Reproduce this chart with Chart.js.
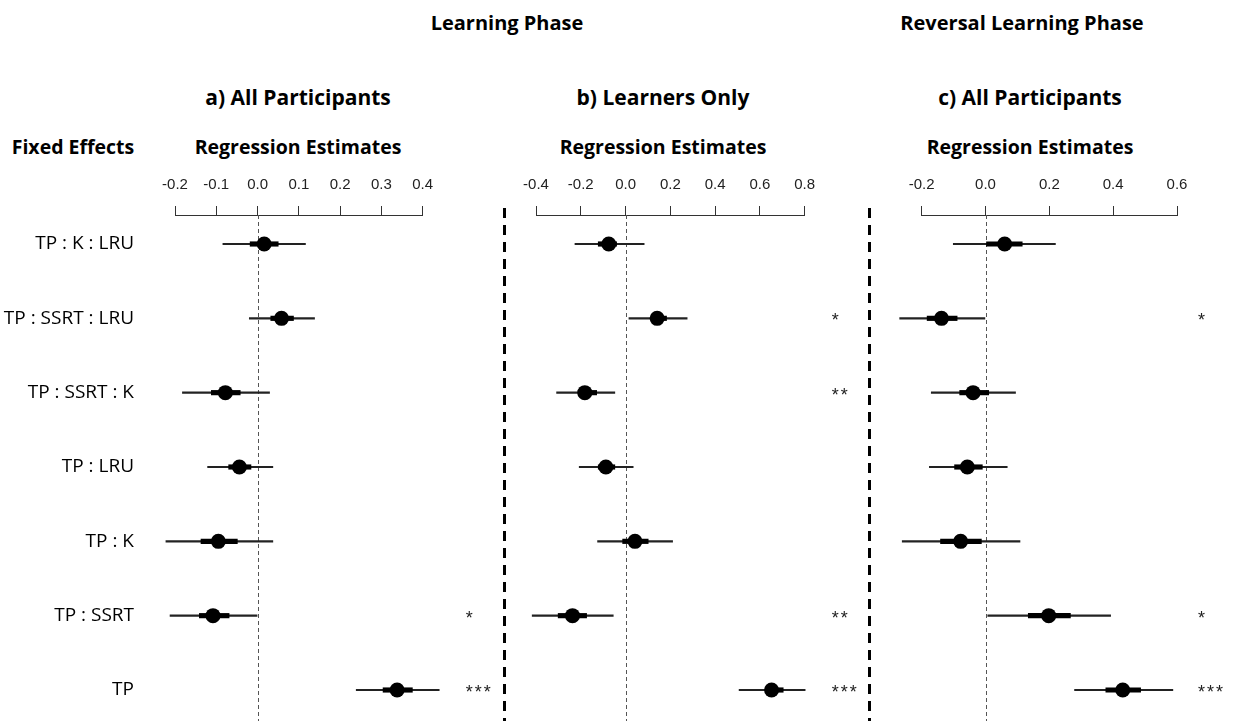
<!DOCTYPE html>
<html>
<head>
<meta charset="utf-8">
<script src="https://cdn.jsdelivr.net/npm/chart.js@4"></script>
<style>
  html, body { margin: 0; padding: 0; background: #fff; }
  body { width: 1233px; height: 721px; position: relative; overflow: hidden; font-family: "Open Sans", sans-serif; }
  .t { position: absolute; font-weight: bold; white-space: nowrap; transform: translate(-50%, -50%); color: #000; }
  .big { font-size: 20px; top: 22px; }
  .sub { font-size: 21px; top: 97px; }
  .hdr { font-size: 19.5px; top: 146px; }
  canvas { position: absolute; top: 0; }
</style>
</head>
<body>
<div class="t big" style="left:507px">Learning Phase</div>
<div class="t big" style="left:1022px">Reversal Learning Phase</div>
<div class="t sub" style="left:298px">a) All Participants</div>
<div class="t sub" style="left:663px">b) Learners Only</div>
<div class="t sub" style="left:1030px">c) All Participants</div>
<div class="t hdr" style="left:73px">Fixed Effects</div>
<div class="t hdr" style="left:298px">Regression Estimates</div>
<div class="t hdr" style="left:663px">Regression Estimates</div>
<div class="t hdr" style="left:1030px">Regression Estimates</div>

<canvas id="panelA" width="503" height="721" style="left:0"></canvas>
<canvas id="panelB" width="365" height="721" style="left:503px"></canvas>
<canvas id="panelC" width="365" height="721" style="left:868px"></canvas>

<script>
// fixed effects, top to bottom
const rowLabels = ['TP : K : LRU', 'TP : SSRT : LRU', 'TP : SSRT : K', 'TP : LRU', 'TP : K', 'TP : SSRT', 'TP'];

// a) learning phase, all participants
const ticksA = [-0.2, -0.1, 0.0, 0.1, 0.2, 0.3, 0.4];
const estA = [0.016, 0.058, -0.078, -0.044, -0.095, -0.108, 0.338];
const ciLowA = [-0.084, -0.020, -0.182, -0.121, -0.222, -0.212, 0.239];
const ciHighA = [0.116, 0.138, 0.029, 0.037, 0.037, 0.000, 0.440];
const innerLowA = [-0.018, 0.032, -0.112, -0.070, -0.137, -0.141, 0.304];
const innerHighA = [0.050, 0.087, -0.042, -0.016, -0.049, -0.069, 0.375];
const starsA = ['', '', '', '', '', '*', '***'];

// b) learning phase, learners only
const ticksB = [-0.4, -0.2, 0.0, 0.2, 0.4, 0.6, 0.8];
const estB = [-0.075, 0.141, -0.182, -0.088, 0.042, -0.237, 0.652];
const ciLowB = [-0.226, 0.015, -0.308, -0.207, -0.125, -0.417, 0.507];
const ciHighB = [0.083, 0.275, -0.048, 0.034, 0.210, -0.055, 0.802];
const innerLowB = [-0.122, 0.116, -0.212, -0.122, -0.013, -0.301, 0.629];
const innerHighB = [-0.040, 0.183, -0.129, -0.048, 0.101, -0.174, 0.704];
const starsB = ['', '*', '**', '', '', '**', '***'];

// c) reversal learning phase, all participants
const ticksC = [-0.2, 0.0, 0.2, 0.4, 0.6];
const estC = [0.060, -0.138, -0.039, -0.057, -0.078, 0.198, 0.430];
const ciLowC = [-0.101, -0.269, -0.170, -0.176, -0.261, 0.007, 0.279];
const ciHighC = [0.219, -0.002, 0.094, 0.068, 0.108, 0.392, 0.587];
const innerLowC = [0.003, -0.183, -0.081, -0.097, -0.141, 0.134, 0.377];
const innerHighC = [0.115, -0.089, 0.010, -0.010, -0.013, 0.266, 0.486];
const starsC = ['', '*', '', '', '', '*', '***'];

// zero line, significance stars and panel separator
const decor = {
    id: 'decor',
    beforeDatasetsDraw(chart, args, o) {
        const { ctx, chartArea, scales } = chart;
        const x0 = Math.round(scales.x.getPixelForValue(0)) + 0.5;
        ctx.save();
        ctx.strokeStyle = '#555';
        ctx.lineWidth = 1;
        ctx.setLineDash([4, 3]);
        ctx.beginPath();
        ctx.moveTo(x0, chartArea.top);
        ctx.lineTo(x0, chart.height);
        ctx.stroke();
        if (o.separator) {
            ctx.strokeStyle = '#000';
            ctx.lineWidth = 3;
            ctx.setLineDash([10, 7]);
            ctx.beginPath();
            ctx.moveTo(1.5, 208);
            ctx.lineTo(1.5, chart.height);
            ctx.stroke();
        }
        ctx.restore();
    },
    afterDatasetsDraw(chart, args, o) {
        const { ctx, chartArea, scales } = chart;
        ctx.save();
        ctx.fillStyle = '#222';
        ctx.font = '18px "Liberation Sans", Arial, sans-serif';
        ctx.letterSpacing = '2px';
        ctx.textAlign = 'left';
        ctx.textBaseline = 'alphabetic';
        o.stars.forEach((s, i) => {
            if (s) ctx.fillText(s, chartArea.right + o.starGap, scales.y.getPixelForValue(i + 1) + 8);
        });
        ctx.restore();
    }
};

function drawPanel(id, p) {
    const ctx = document.getElementById(id).getContext('2d');
    const rows = p.est.map((v, i) => i + 1);
    return new Chart(ctx, {
        type: 'bar',
        data: {
            datasets: [
                {
                    type: 'scatter',
                    data: p.est.map((v, i) => ({ x: v, y: rows[i] })),
                    pointRadius: 7.5,
                    pointHoverRadius: 7.5,
                    pointBackgroundColor: '#000',
                    pointBorderWidth: 0,
                    order: 0,
                    clip: false
                },
                {
                    data: p.innerLow.map((v, i) => ({ y: rows[i], x: [v, p.innerHigh[i]] })),
                    barThickness: 4.5,
                    backgroundColor: '#000',
                    grouped: false,
                    order: 1,
                    clip: false
                },
                {
                    data: p.ciLow.map((v, i) => ({ y: rows[i], x: [v, p.ciHigh[i]] })),
                    barThickness: 1.5,
                    backgroundColor: '#222',
                    grouped: false,
                    order: 2,
                    clip: false
                }
            ]
        },
        options: {
            responsive: false,
            animation: false,
            events: [],
            indexAxis: 'y',
            layout: { autoPadding: false, padding: { left: p.padLeft, right: p.padRight, top: 0, bottom: 0 } },
            plugins: {
                legend: { display: false },
                tooltip: { enabled: false },
                decor: { stars: p.stars, starGap: p.starGap, separator: p.separator }
            },
            scales: {
                x: {
                    type: 'linear',
                    position: 'top',
                    min: p.ticks[0],
                    max: p.ticks[p.ticks.length - 1],
                    afterBuildTicks: s => { s.ticks = p.ticks.map(v => ({ value: v })); },
                    afterFit: s => { s.height = 215; },
                    grid: { drawOnChartArea: false, drawTicks: true, tickLength: 9, color: '#333', lineWidth: 1 },
                    border: { display: true, color: '#333', width: 1 },
                    ticks: {
                        padding: 12,
                        color: '#222',
                        autoSkip: false,
                        maxRotation: 0,
                        font: { family: '"Liberation Sans", Arial, sans-serif', size: 15 },
                        callback: v => v.toFixed(1)
                    }
                },
                y: {
                    type: 'linear',
                    reverse: true,
                    min: 0.61,
                    max: 7.417,
                    offset: false,
                    display: p.showLabels,
                    afterBuildTicks: s => { s.ticks = rows.map(v => ({ value: v })); },
                    afterFit: s => {
                        if (p.showLabels) s.width = 175;
                        s.paddingTop = 0;
                        s.paddingBottom = 0;
                    },
                    grid: { display: false, drawTicks: false },
                    border: { display: false },
                    ticks: {
                        padding: 41,
                        color: '#000',
                        font: { family: '"Open Sans", sans-serif', size: 19 },
                        callback: v => rowLabels[v - 1]
                    }
                }
            }
        },
        plugins: [decor]
    });
}

drawPanel('panelA', {
    ticks: ticksA, est: estA, ciLow: ciLowA, ciHigh: ciHighA, innerLow: innerLowA, innerHigh: innerHighA,
    stars: starsA, starGap: 43, separator: false, showLabels: true, padLeft: 0, padRight: 80.3
});
drawPanel('panelB', {
    ticks: ticksB, est: estB, ciLow: ciLowB, ciHigh: ciHighB, innerLow: innerLowB, innerHigh: innerHighB,
    stars: starsB, starGap: 27, separator: true, showLabels: false, padLeft: 33, padRight: 63.3
});
drawPanel('panelC', {
    ticks: ticksC, est: estC, ciLow: ciLowC, ciHigh: ciHighC, innerLow: innerLowC, innerHigh: innerHighC,
    stars: starsC, starGap: 21, separator: true, showLabels: false, padLeft: 53.7, padRight: 56
});
</script>
</body>
</html>
